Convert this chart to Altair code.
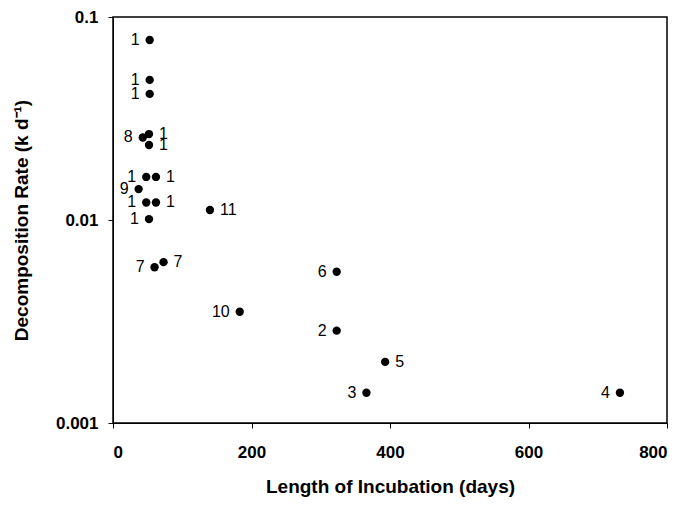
import altair as alt
import pandas as pd

days = [53, 53, 53, 43, 52, 52, 48, 62, 37, 48, 62, 52, 140, 60, 73, 323, 183, 323, 393, 366, 732]
rate = [0.077, 0.049, 0.0418, 0.0255, 0.0265, 0.0234, 0.0163, 0.0163, 0.0142, 0.0122, 0.0122,
        0.0101, 0.0112, 0.00585, 0.0062, 0.00556, 0.00353, 0.00285, 0.0020, 0.00141, 0.00141]
label = ["1", "1", "1", "8", "1", "1", "1", "1", "9", "1", "1", "1", "11", "7", "7", "6", "10", "2", "5", "3", "4"]
side = ["L", "L", "L", "L", "R", "R", "L", "R", "L", "L", "R", "L", "R", "L", "R", "L", "L", "L", "R", "L", "L"]

df = pd.DataFrame({"days": days, "rate": rate, "label": label, "side": side})

FONT = "Liberation Sans"

x = alt.X("days:Q", scale=alt.Scale(domain=[0, 800], nice=False),
          axis=alt.Axis(title="Length of Incubation (days)", values=[0, 200, 400, 600, 800],
                        grid=False, tickSize=5, labelPadding=16, titlePadding=17,
                        labelFontSize=17, labelFontWeight="bold", titleFontSize=19,
                        titleFontWeight="bold", labelFont=FONT, titleFont=FONT,
                        domainColor="black", tickColor="black", labelColor="black",
                        titleColor="black"))
y = alt.Y("rate:Q", scale=alt.Scale(type="log", domain=[0.001, 0.1], nice=False),
          axis=alt.Axis(title="Decomposition Rate (k d⁻¹)", values=[0.001, 0.01, 0.1],
                        format="~g", grid=False, tickSize=5, labelPadding=10, titlePadding=24,
                        labelFontSize=17, labelFontWeight="bold", titleFontSize=19,
                        titleFontWeight="bold", labelFont=FONT, titleFont=FONT,
                        domainColor="black", tickColor="black", labelColor="black",
                        titleColor="black"))

base = alt.Chart(df).encode(x=x, y=y)

pts = base.mark_circle(size=70, color="black", opacity=1)
left = base.transform_filter(alt.datum.side == "L").mark_text(
    align="right", baseline="middle", dx=-10, fontSize=16, font=FONT, color="black"
).encode(text="label:N")
right = base.transform_filter(alt.datum.side == "R").mark_text(
    align="left", baseline="middle", dx=10, fontSize=16, font=FONT, color="black"
).encode(text="label:N")

chart = (pts + left + right).properties(
    width=554, height=406,
    autosize=alt.AutoSizeParams(type="none"),
    padding={"left": 105, "top": 9, "right": 12, "bottom": 76},
).configure(background="white").configure_view(stroke="black", strokeWidth=1.5)

chart.save("out.html", embed_options={"renderer": "svg", "actions": False})
